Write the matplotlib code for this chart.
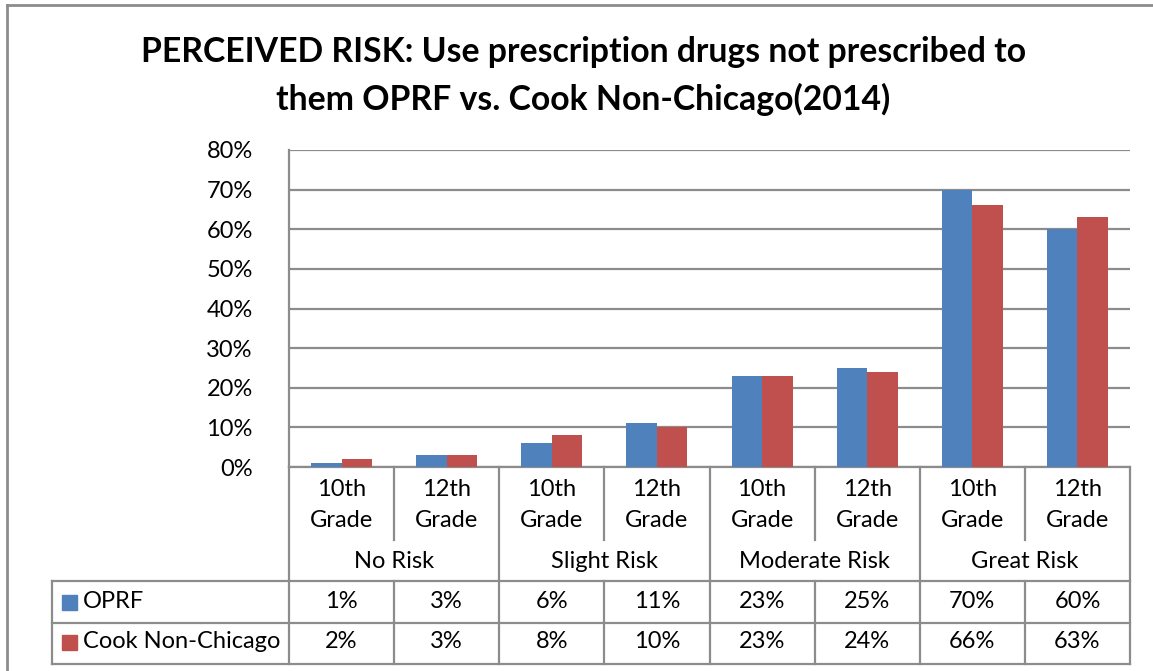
import matplotlib
matplotlib.use('Agg')
import matplotlib.pyplot as plt
from matplotlib.lines import Line2D
from matplotlib.patches import Rectangle
import numpy as np

plt.rcParams['font.family'] = ['Lato', 'DejaVu Sans']

groups = ['No Risk', 'Slight Risk', 'Moderate Risk', 'Great Risk']
grades = ['10th\nGrade', '12th\nGrade']
series_names = ['OPRF', 'Cook Non-Chicago']
oprf = [1, 3, 6, 11, 23, 25, 70, 60]
cook = [2, 3, 8, 10, 23, 24, 66, 63]
colors = ['#4F81BD', '#C0504D']
title = 'PERCEIVED RISK: Use prescription drugs not prescribed to\nthem OPRF vs. Cook Non-Chicago(2014)'

W, H = 1153, 671
fig = plt.figure(figsize=(W / 100, H / 100), dpi=100)

# plot area in pixels
px_l, px_r, px_t, px_b = 289, 1130, 150, 467
ax = fig.add_axes([px_l / W, 1 - px_b / H, (px_r - px_l) / W, (px_b - px_t) / H])

n = len(oprf)
x = np.arange(n)
bw = 0.29
ax.bar(x - bw / 2, oprf, bw, color=colors[0], zorder=3)
ax.bar(x + bw / 2, cook, bw, color=colors[1], zorder=3)

fs = 17
ax.set_xlim(-0.5, n - 0.5)
ax.set_ylim(0, 80)
ax.set_yticks(range(0, 81, 10))
ax.set_yticklabels([f'{v}%' for v in range(0, 81, 10)], fontsize=fs)
ax.tick_params(axis='y', length=0, pad=26)
ax.set_xticks([])
ax.grid(axis='y', color='#8C8C8C', linewidth=1.6, zorder=0)
for s in ['top', 'right']:
    ax.spines[s].set_visible(False)
ax.spines['left'].set_color('#8C8C8C')
ax.spines['left'].set_linewidth(1.6)
ax.spines['bottom'].set_color('#8C8C8C')
ax.spines['bottom'].set_linewidth(1.6)

# table below the axes: x in data coords, y in pixels -> axes fraction
tr = ax.get_xaxis_transform()


def yf(py):
    return (px_b - py) / (px_b - px_t)


lc = '#8C8C8C'
lw = 1.6


def vline(xd, y0, y1):
    ax.add_line(Line2D([xd, xd], [yf(y0), yf(y1)], transform=tr, color=lc, lw=lw, clip_on=False))


def hline(x0, x1, py):
    ax.add_line(Line2D([x0, x1], [yf(py), yf(py)], transform=tr, color=lc, lw=lw, clip_on=False))


cat_w = (px_r - px_l) / n
left_d = -0.5 - (px_l - 52) / cat_w
legend_d = -0.5 - (px_l - 62) / cat_w
text_d = -0.5 - (px_l - 83) / cat_w

y_row1, y_row2, y_bot = 581, 623, 664
vline(-0.5, px_b, y_bot)
vline(n - 0.5, px_b, y_bot)
for i in range(1, n):
    if i % 2 == 0:
        vline(i - 0.5, px_b, y_bot)
    else:
        vline(i - 0.5, px_b, 540)
        vline(i - 0.5, y_row1, y_bot)
hline(left_d, n - 0.5, y_row1)
hline(left_d, n - 0.5, y_row2)
hline(left_d, n - 0.5, y_bot)
vline(left_d, y_row1, y_bot)

for i in range(n):
    ax.text(i, yf(505), grades[i % 2], transform=tr, ha='center', va='center',
            fontsize=fs, linespacing=1.6)
for g, name in enumerate(groups):
    ax.text(2 * g + 0.5, yf(561), name, transform=tr, ha='center', va='center', fontsize=fs)

rows = [oprf, cook]
row_y = [602, 642]
for r, vals in enumerate(rows):
    for i, v in enumerate(vals):
        ax.text(i, yf(row_y[r]), f'{v}%', transform=tr, ha='center', va='center', fontsize=fs)
    sq = Rectangle((legend_d, yf(row_y[r] + 7.5)), 15 / cat_w, 15 / (px_b - px_t),
                   transform=tr, color=colors[r], clip_on=False)
    ax.add_patch(sq)
    ax.text(text_d, yf(row_y[r]), series_names[r], transform=tr, ha='left', va='center', fontsize=fs)

fig.text(0.506, 1 - 76 / H, title, ha='center', va='center', fontsize=24.3,
         fontweight='bold', linespacing=1.54)

# outer chart border
fig.add_artist(Line2D([7 / W, 7 / W], [0, 1 - 5 / H], transform=fig.transFigure, color=lc, lw=2))
fig.add_artist(Line2D([7 / W, 1], [1 - 5 / H, 1 - 5 / H], transform=fig.transFigure, color=lc, lw=2))

fig.savefig('out.png', dpi=100)
